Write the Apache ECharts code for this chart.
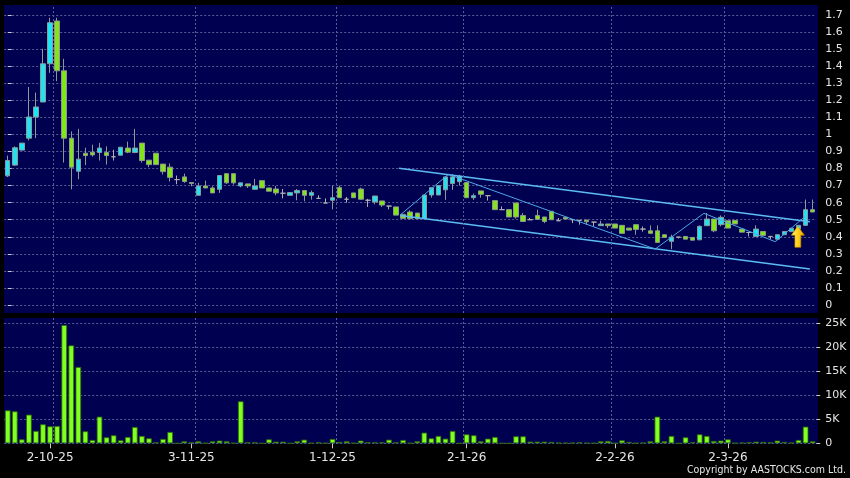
<!DOCTYPE html>
<html><head><meta charset="utf-8">
<script src="https://cdn.jsdelivr.net/npm/echarts@6/dist/echarts.min.js"></script>
<style>html,body{margin:0;padding:0;background:#000;}#c{width:850px;height:478px;}</style>
</head><body><div id="c"></div>
<script>
const dates = ['23-9-25','24-9-25','25-9-25','26-9-25','29-9-25','30-9-25',
'2-10-25','3-10-25','6-10-25','8-10-25','9-10-25','10-10-25','13-10-25','14-10-25','15-10-25','16-10-25','17-10-25','20-10-25','21-10-25','22-10-25','23-10-25','24-10-25','27-10-25','28-10-25','30-10-25','31-10-25',
'3-11-25','4-11-25','5-11-25','6-11-25','7-11-25','10-11-25','11-11-25','12-11-25','13-11-25','14-11-25','17-11-25','18-11-25','19-11-25','20-11-25','21-11-25','24-11-25','25-11-25','26-11-25','27-11-25','28-11-25',
'1-12-25','2-12-25','3-12-25','4-12-25','5-12-25','8-12-25','9-12-25','10-12-25','11-12-25','12-12-25','15-12-25','16-12-25','17-12-25','18-12-25','19-12-25','22-12-25','23-12-25','29-12-25','30-12-25',
'2-1-26','5-1-26','6-1-26','7-1-26','8-1-26','9-1-26','12-1-26','13-1-26','14-1-26','15-1-26','16-1-26','19-1-26','20-1-26','21-1-26','22-1-26','23-1-26','26-1-26','27-1-26','28-1-26','29-1-26','30-1-26',
'2-2-26','3-2-26','4-2-26','5-2-26','6-2-26','9-2-26','10-2-26','11-2-26','12-2-26','13-2-26','20-2-26','23-2-26','24-2-26','25-2-26','26-2-26','27-2-26',
'2-3-26','3-3-26','4-3-26','5-3-26','6-3-26','9-3-26','10-3-26','11-3-26','12-3-26','13-3-26','16-3-26','17-3-26','18-3-26'];

const opens = [0.757,0.82,0.908,0.978,1.102,1.19,1.414,1.665,1.373,0.978,
0.784,0.89,0.896,0.894,0.894,0.869,0.878,0.92,0.894,0.949,
0.849,0.89,0.826,0.808,0.735,0.751,0.718,0.643,0.698,0.686,
0.678,0.77,0.77,0.698,0.71,0.678,0.729,0.686,0.68,0.655,
0.643,0.657,0.671,0.643,0.625,0.598,0.614,0.688,0.62,0.657,
0.68,0.614,0.604,0.61,0.58,0.575,0.531,0.545,0.539,0.506,
0.645,0.645,0.675,0.712,0.723,0.718,0.629,0.669,0.641,0.612,
0.559,0.559,0.598,0.525,0.5,0.525,0.516,0.549,0.494,0.514,
0.5,0.496,0.498,0.486,0.465,0.475,0.475,0.467,0.451,0.471,
0.445,0.435,0.435,0.412,0.373,0.398,0.402,0.396,0.382,0.465,
0.504,0.471,0.494,0.496,0.445,0.425,0.402,0.431,0.402,0.386,
0.412,0.43,0.445,0.467,0.559];
const closes = [0.847,0.922,0.949,1.102,1.161,1.414,1.655,1.373,0.978,0.808,
0.855,0.876,0.88,0.92,0.876,0.869,0.925,0.896,0.92,0.847,
0.823,0.823,0.782,0.748,0.735,0.724,0.712,0.698,0.686,0.657,
0.759,0.716,0.716,0.716,0.698,0.698,0.686,0.667,0.657,0.655,
0.659,0.671,0.643,0.659,0.625,0.598,0.629,0.629,0.62,0.629,
0.62,0.614,0.639,0.586,0.58,0.527,0.508,0.506,0.506,0.645,
0.688,0.7,0.751,0.751,0.755,0.629,0.641,0.649,0.641,0.559,
0.559,0.516,0.516,0.49,0.5,0.502,0.49,0.5,0.494,0.504,
0.5,0.496,0.488,0.486,0.475,0.465,0.451,0.42,0.439,0.443,
0.445,0.42,0.367,0.396,0.398,0.398,0.386,0.38,0.461,0.504,
0.435,0.514,0.451,0.475,0.427,0.425,0.445,0.408,0.402,0.412,
0.431,0.45,0.467,0.559,0.545];
const lows = [0.75,0.815,0.908,0.965,0.978,1.19,1.361,1.312,0.835,0.678,
0.737,0.82,0.87,0.847,0.823,0.847,0.878,0.89,0.89,0.835,
0.808,0.82,0.765,0.724,0.708,0.716,0.696,0.643,0.686,0.657,
0.657,0.71,0.706,0.69,0.686,0.678,0.686,0.667,0.643,0.625,
0.643,0.614,0.608,0.618,0.625,0.598,0.561,0.629,0.6,0.629,
0.616,0.575,0.59,0.575,0.561,0.527,0.506,0.502,0.506,0.506,
0.629,0.645,0.616,0.675,0.7,0.629,0.616,0.629,0.612,0.559,
0.559,0.516,0.506,0.49,0.5,0.502,0.48,0.5,0.494,0.504,
0.48,0.471,0.471,0.461,0.465,0.451,0.451,0.42,0.439,0.412,
0.43,0.42,0.367,0.396,0.327,0.39,0.386,0.38,0.382,0.465,
0.427,0.461,0.451,0.475,0.427,0.402,0.402,0.408,0.386,0.382,
0.412,0.43,0.445,0.467,0.545];
const highs = [0.876,0.93,0.949,1.278,1.245,1.502,1.684,1.684,1.443,1.018,
1.033,0.922,0.94,0.95,0.93,0.91,0.925,0.958,1.033,0.949,
0.849,0.89,0.826,0.83,0.759,0.77,0.718,0.716,0.729,0.696,
0.759,0.77,0.77,0.716,0.71,0.739,0.729,0.686,0.698,0.68,
0.659,0.68,0.671,0.671,0.643,0.625,0.7,0.7,0.633,0.657,
0.688,0.622,0.639,0.61,0.58,0.575,0.535,0.555,0.539,0.645,
0.688,0.7,0.751,0.767,0.763,0.72,0.653,0.669,0.641,0.612,
0.578,0.559,0.598,0.539,0.51,0.559,0.516,0.549,0.51,0.514,
0.5,0.496,0.498,0.486,0.494,0.475,0.475,0.467,0.451,0.471,
0.46,0.467,0.467,0.412,0.412,0.398,0.402,0.396,0.467,0.539,
0.504,0.525,0.494,0.496,0.445,0.425,0.467,0.431,0.402,0.412,
0.431,0.45,0.467,0.618,0.618];
const volumes = [6870,6660,830,5970,2570,3960,3540,3610,24640,20400,
15890,2500,690,5550,1250,1670,620,1320,3400,1530,
1040,210,900,2360,0,420,210,420,50,420,
560,420,50,8750,210,210,0,830,350,350,
0,420,760,50,210,50,900,280,420,50,
560,210,210,210,760,210,690,50,420,2220,
1040,1530,970,2570,0,1870,1670,420,970,1320,
0,0,1460,1460,350,350,350,280,140,100,
100,210,100,50,420,490,50,620,280,50,
140,420,5550,420,1530,0,1250,210,1870,1530,
490,560,830,50,140,210,350,280,210,560,
280,140,690,3470,420];

const xLabels = ['2-10-25','3-11-25','1-12-25','2-1-26','2-2-26','2-3-26'];
const gridDates = ['3-10-25','4-11-25','2-12-25','2-1-26','2-2-26','2-3-26'];
const priceMin = 0, priceMax = 1.7, priceStep = 0.1;
const volMin = 0, volMax = 25000, volStep = 5000;

// trend lines in (candle index, price)
const channelUpper = [[55.4, 0.801], [113.6, 0.488]];
const channelLower = [[55.6, 0.525], [113.6, 0.211]];
const zigzag = [[55.6, 0.528], [62.4, 0.766], [91.7, 0.328], [98.6, 0.5375], [108.7, 0.371], [112.9, 0.518]];
const arrowPoint = [[111.9, 0.40]];

const N = dates.length;
const candleData = opens.map((o, i) => [o, closes[i], lows[i], highs[i]]);
const gridIdx = gridDates.map(d => dates.indexOf(d) - 0.5);

const NAVY = '#000050';
const GRIDC = '#5c5c94';
const TXT = '#e6e6e6';
const FONT = 'DejaVu Sans';
const L = 4.2, R = 33.8;

const vLineMark = {
  silent: true, symbol: 'none', label: {show: false}, animation: false,
  lineStyle: {color: GRIDC, type: [2, 2], width: 1},
  emphasis: {disabled: true},
  data: gridIdx.map(x => ({xAxis: x}))
};

const chart = echarts.init(document.getElementById('c'), null, {renderer: 'canvas'});
chart.setOption({
  backgroundColor: '#000',
  animation: false,
  graphic: [
    {type: 'rect', z: -100, shape: {x: 4, y: 5, width: 814, height: 308}, style: {fill: NAVY}, silent: true},
    {type: 'rect', z: -100, shape: {x: 4, y: 318, width: 814, height: 126}, style: {fill: NAVY}, silent: true},
    {type: 'text', right: 4, top: 465, style: {text: 'Copyright by AASTOCKS.com Ltd.', fill: TXT, font: '10.5px "DejaVu Sans Condensed", "DejaVu Sans"'}, silent: true}
  ],
  grid: [
    {left: L, right: R, top: 15, bottom: 173},
    {left: L, right: R, top: 323.3, bottom: 34.7},
    {left: L, right: R, top: 5, bottom: 165},
    {left: L, right: R, top: 318, bottom: 34}
  ],
  xAxis: [
    {type: 'category', gridIndex: 0, data: dates, boundaryGap: true,
     axisLine: {show: false}, axisTick: {show: false}, axisLabel: {show: false}, splitLine: {show: false}},
    {type: 'category', gridIndex: 1, data: dates, boundaryGap: true,
     axisLine: {show: false},
     axisTick: {show: true, alignWithLabel: true, length: 5, interval: (i, v) => xLabels.includes(v), lineStyle: {color: '#cccccc'}},
     axisLabel: {show: true, interval: (i, v) => xLabels.includes(v), color: TXT, fontFamily: FONT, fontSize: 12, margin: 9},
     splitLine: {show: false}},
    {type: 'value', gridIndex: 0, min: -0.5, max: N - 0.5, show: false},
    {type: 'value', gridIndex: 2, min: -0.5, max: N - 0.5, show: false},
    {type: 'value', gridIndex: 3, min: -0.5, max: N - 0.5, show: false}
  ],
  yAxis: [
    {type: 'value', gridIndex: 0, position: 'right', min: priceMin, max: priceMax, interval: priceStep,
     axisLine: {show: false},
     axisTick: {show: true, length: 4, lineStyle: {color: '#cccccc'}},
     axisLabel: {color: TXT, fontFamily: FONT, fontSize: 11, margin: 9, formatter: v => String(+v.toFixed(1))},
     splitLine: {show: true, lineStyle: {color: GRIDC, type: [2, 2], width: 1}}},
    {type: 'value', gridIndex: 1, position: 'right', min: volMin, max: volMax, interval: volStep,
     axisLine: {show: false},
     axisTick: {show: true, length: 4, lineStyle: {color: '#cccccc'}},
     axisLabel: {color: TXT, fontFamily: FONT, fontSize: 11, margin: 9, formatter: v => v === 0 ? '0' : (v / 1000) + 'K'},
     splitLine: {show: true, lineStyle: {color: GRIDC, type: [2, 2], width: 1}}},
    {type: 'value', gridIndex: 2, min: 0, max: 1, show: false},
    {type: 'value', gridIndex: 3, min: 0, max: 1, show: false}
  ],
  series: [
    {type: 'line', xAxisIndex: 3, yAxisIndex: 2, data: [], silent: true, z: 1, markLine: vLineMark},
    {type: 'line', xAxisIndex: 4, yAxisIndex: 3, data: [], silent: true, z: 1, markLine: vLineMark},
    {type: 'candlestick', xAxisIndex: 0, yAxisIndex: 0, data: candleData, barWidth: 5, z: 2,
     itemStyle: {color: '#1ee3f2', color0: '#84e41c', borderColor: '#8c9a9a', borderColor0: '#8c9a8a', borderColorDoji: '#b0b0b0', borderWidth: 1}},
    {type: 'bar', xAxisIndex: 1, yAxisIndex: 1, data: volumes, barWidth: 5.6, z: 2,
     itemStyle: {color: '#80ff20', borderColor: '#2c6a06', borderWidth: 0.8}},
    {type: 'line', xAxisIndex: 2, yAxisIndex: 0, data: channelUpper, symbol: 'none', silent: true, z: 3,
     lineStyle: {color: '#5cbcf2', width: 1.5}},
    {type: 'line', xAxisIndex: 2, yAxisIndex: 0, data: channelLower, symbol: 'none', silent: true, z: 3,
     lineStyle: {color: '#5cbcf2', width: 1.5}},
    {type: 'line', xAxisIndex: 2, yAxisIndex: 0, data: zigzag, symbol: 'none', silent: true, z: 3,
     lineStyle: {color: '#4aa8e8', width: 1}},
    {type: 'scatter', xAxisIndex: 2, yAxisIndex: 0, data: arrowPoint, silent: true, z: 4,
     symbol: 'path://M6,0 L12,8.5 L8.7,8.5 L8.7,20 L3.3,20 L3.3,8.5 L0,8.5 Z', symbolSize: [13, 21],
     itemStyle: {color: {type: 'linear', x: 0, y: 0, x2: 1, y2: 0, colorStops: [{offset: 0, color: '#fff48c'}, {offset: 0.45, color: '#ffd51c'}, {offset: 1, color: '#eaa800'}]}, borderColor: '#c88f00', borderWidth: 0.6, opacity: 1}}
  ]
});
</script></body></html>
